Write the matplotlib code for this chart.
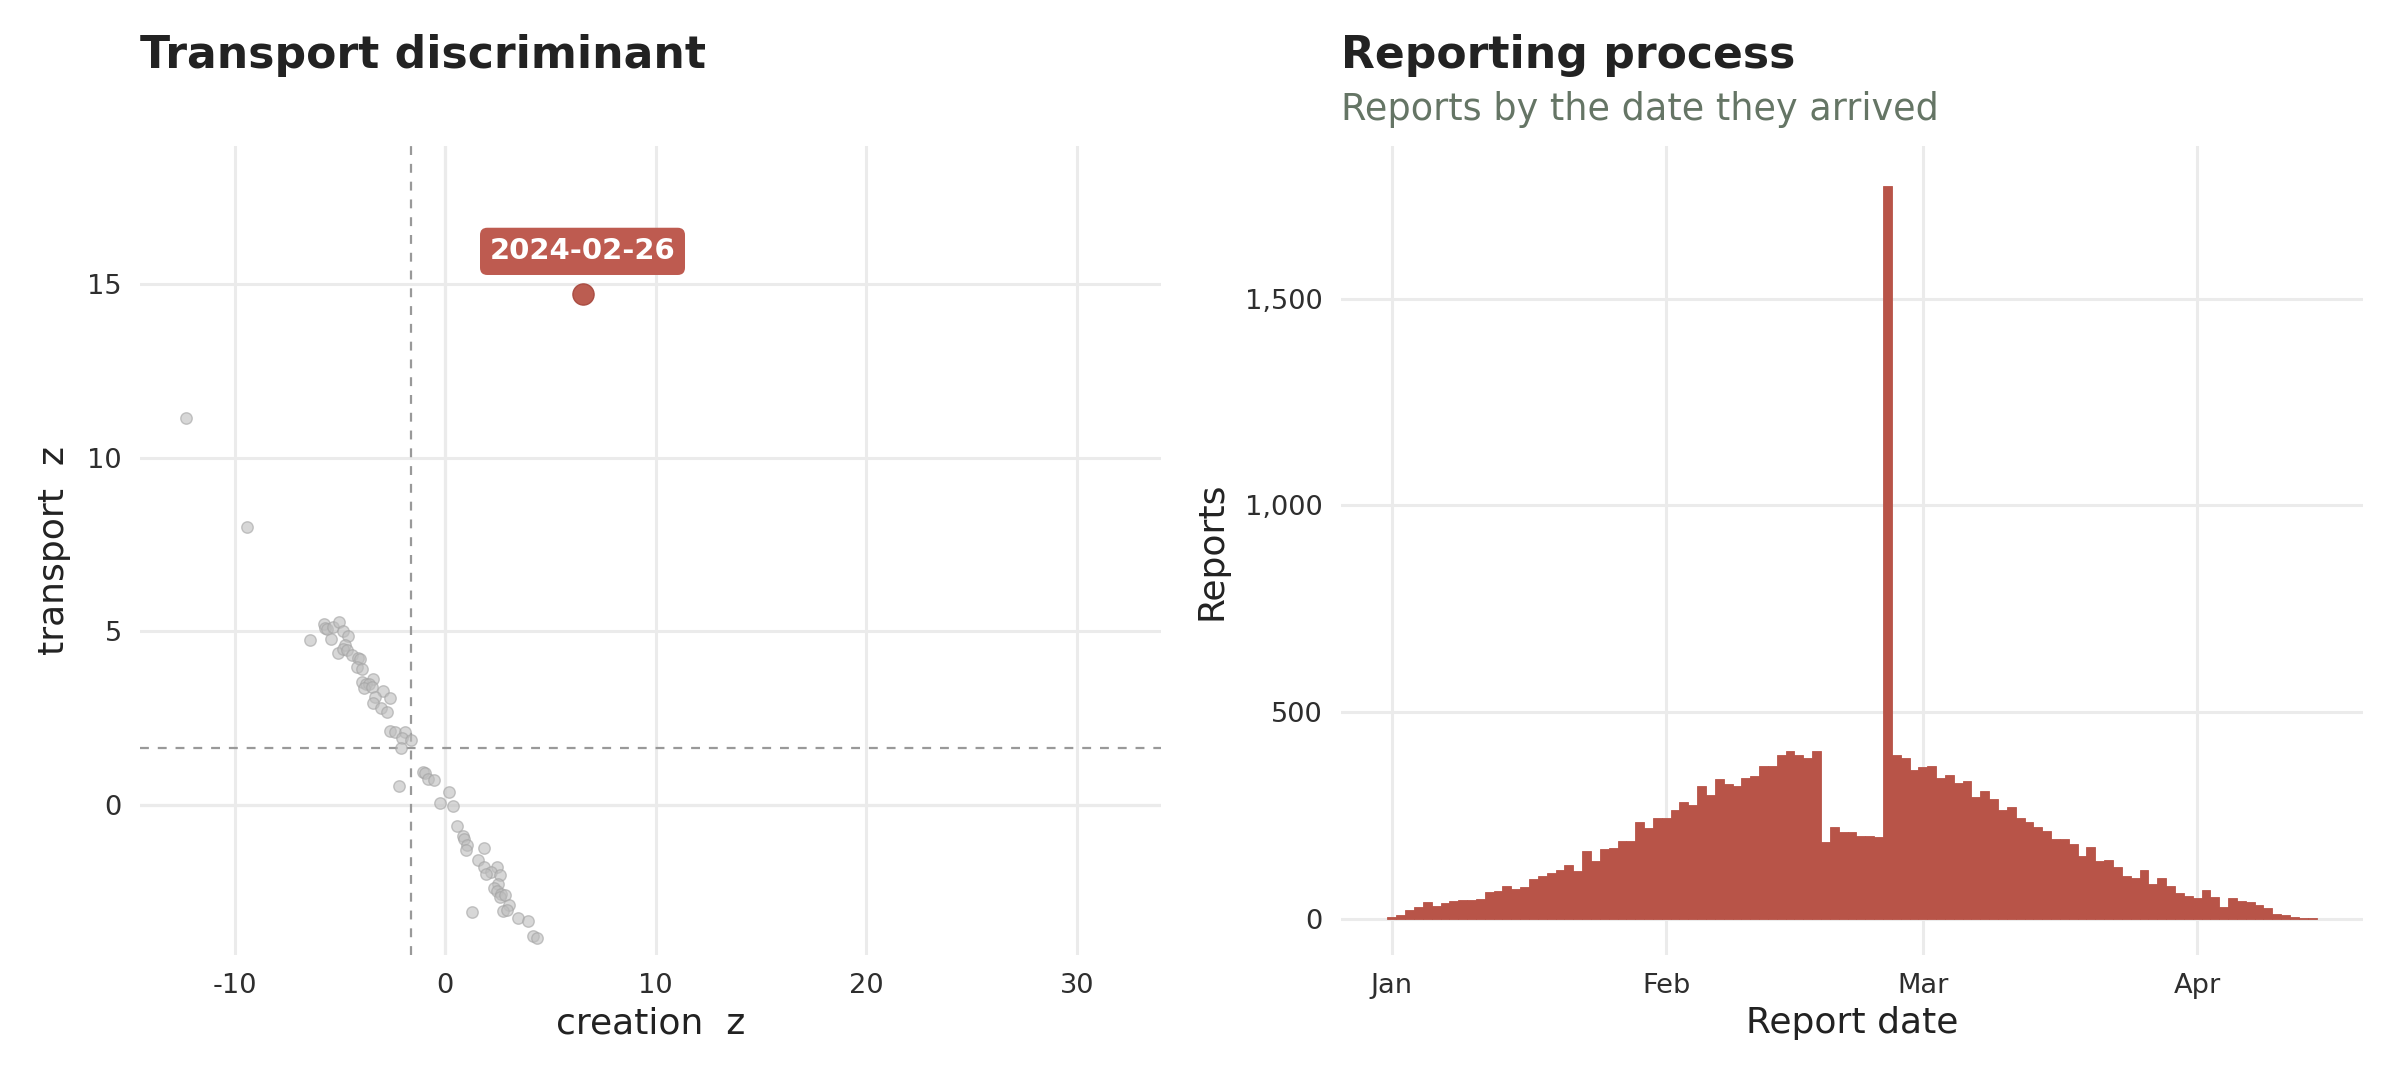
import matplotlib
matplotlib.use("Agg")
import matplotlib.pyplot as plt
import matplotlib.dates as mdates
import numpy as np
import pandas as pd
from matplotlib.ticker import FuncFormatter

plt.rcParams['font.family'] = ['DejaVu Sans']
plt.rcParams['axes.unicode_minus'] = False

# ---------------- data ----------------
creation_z = [-12.33, -9.42, -6.42, -5.75, -5.69, -5.60, -5.33, -5.04, -4.87, -5.42,
              -4.64, -4.75, -5.09, -4.87, -4.69, -4.45, -4.15, -4.05, -4.20, -3.96,
              -3.96, -3.42, -3.78, -3.60, -3.87, -3.47, -2.96, -3.33, -2.64, -3.42,
              -3.05, -2.78, -2.64, -2.38, -1.91, -2.05, -1.64, -2.09, -1.05, -0.96,
              -0.82, -0.55, -2.20, 0.18, -0.27, 0.35, 0.58, 0.85, 0.89, 1.04,
              0.98, 1.82, 1.55, 1.85, 2.45, 2.18, 1.95, 2.58, 2.49, 2.31,
              2.45, 2.67, 2.58, 2.82, 3.04, 2.76, 2.95, 1.25, 3.45, 3.95,
              4.18, 4.35]
transport_z = [11.13, 8.01, 4.74, 5.22, 5.09, 5.07, 5.12, 5.28, 5.01, 4.79,
               4.87, 4.62, 4.38, 4.48, 4.46, 4.32, 4.24, 4.21, 3.98, 3.91,
               3.54, 3.63, 3.47, 3.49, 3.38, 3.41, 3.28, 3.11, 3.08, 2.94,
               2.78, 2.67, 2.12, 2.09, 2.11, 1.92, 1.87, 1.64, 0.96, 0.91,
               0.76, 0.71, 0.54, 0.38, 0.06, -0.03, -0.60, -0.89, -0.97, -1.15,
               -1.31, -1.23, -1.59, -1.78, -1.78, -1.94, -2.00, -2.02, -2.27, -2.38,
               -2.47, -2.55, -2.66, -2.60, -2.88, -3.05, -3.01, -3.07, -3.25, -3.33,
               -3.76, -3.82]
highlight_date = "2024-02-26"
highlight_x = 6.52
highlight_y = 14.70
label_y = 15.94
threshold = 1.645

report_start = "2024-01-01"
reports = [
    # Jan
    4, 9, 21, 28, 40, 31, 38, 43, 45, 45, 48, 64, 67, 79, 72, 76, 96, 103, 110, 118,
    130, 115, 163, 139, 168, 171, 188, 188, 233, 219, 243,
    # Feb
    244, 262, 282, 275, 320, 299, 337, 325, 320, 340, 345, 369, 369, 395, 407, 395,
    390, 405, 185, 221, 209, 209, 200, 200, 197, 1773, 395, 390, 361,
    # Mar
    366, 369, 340, 349, 328, 333, 294, 308, 289, 262, 270, 243, 233, 221, 212, 192,
    192, 180, 151, 173, 139, 142, 125, 103, 98, 118, 84, 98, 79, 62, 55,
    # Apr
    50, 69, 52, 28, 50, 43, 40, 33, 26, 11, 9, 4, 2, 2,
]
report_dates = pd.date_range(report_start, periods=len(reports), freq="D")

x_ticks_left = [-10, 0, 10, 20, 30]
y_ticks_left = [0, 5, 10, 15]
y_ticks_right = [0, 500, 1000, 1500]
month_ticks = ["2024-01-01", "2024-02-01", "2024-03-01", "2024-04-01"]
month_labels = ["Jan", "Feb", "Mar", "Apr"]

# ---------------- style ----------------
RED = "#B85448"
LABEL_RED = "#BE5B50"
GRID = "#EBEBEB"
ZERO = "#D9D9D9"
TXT = "#222222"
TICK = "#2E2E2E"
SUB = "#657565"

fig = plt.figure(figsize=(12, 5.4), dpi=200)
axL = fig.add_axes([140 / 2400, 0.1157, 1021 / 2400, 0.749])
axR = fig.add_axes([1341 / 2400, 0.1157, 1022 / 2400, 0.749])

for ax in (axL, axR):
    for s in ax.spines.values():
        s.set_visible(False)
    ax.tick_params(length=0, labelsize=9.8, colors=TICK, pad=6.5)
    ax.set_axisbelow(True)
    ax.grid(True, color=GRID, linewidth=1.1)

# ---- left panel ----
axL.set_xlim(-14.5, 34.0)
axL.set_ylim(-4.32, 18.97)
axL.set_xticks(x_ticks_left)
axL.set_yticks(y_ticks_left)
axL.axhline(0, color=ZERO, linewidth=1.1, zorder=0.5)
axL.axvline(0, color=ZERO, linewidth=1.1, zorder=0.5)
axL.axhline(threshold, color="#999999", linewidth=0.8, linestyle=(0, (4, 4)), zorder=1)
axL.axvline(-threshold, color="#999999", linewidth=0.8, linestyle=(0, (4, 4)), zorder=1)
axL.scatter(creation_z, transport_z, s=17, facecolor="#BDBDBD", edgecolor="#A3A3A3",
            linewidth=0.5, alpha=0.6, zorder=2)
axL.scatter([highlight_x], [highlight_y], s=58, facecolor=RED, edgecolor="#A84A40",
            linewidth=0.5, alpha=0.95, zorder=3)
axL.text(highlight_x, label_y, highlight_date, ha="center", va="center",
         fontsize=10.5, fontweight="bold", color="white", zorder=4,
         bbox=dict(boxstyle="round,pad=0.33,rounding_size=0.25", fc=LABEL_RED, ec="none"))
axL.set_xlabel("creation  z", fontsize=13, color=TXT, va="center", ha="center")
axL.set_ylabel("transport  z", fontsize=13, color=TXT, va="center", ha="center")
axL.xaxis.set_label_coords(0.5, (955 - 1023) / 809)
axL.yaxis.set_label_coords((54 - 140) / 1021, 0.5)

# ---- right panel ----
axR.bar(report_dates, reports, width=1.0, align="center", color=RED,
        edgecolor=RED, linewidth=0.3, zorder=2)
x0 = mdates.date2num(pd.Timestamp(report_start))
axR.set_xlim(x0 - 5.75, x0 + 109.75)
axR.set_ylim(-87.7, 1869)
axR.set_xticks([mdates.date2num(pd.Timestamp(d)) for d in month_ticks])
axR.set_xticklabels(month_labels)
axR.set_yticks(y_ticks_right)
axR.yaxis.set_major_formatter(FuncFormatter(lambda v, p: f"{int(v):,}"))
axR.set_xlabel("Report date", fontsize=13, color=TXT, va="center", ha="center")
axR.set_ylabel("Reports", fontsize=13, color=TXT, va="center", ha="center")
axR.xaxis.set_label_coords(0.5, (955 - 1023) / 809)
axR.yaxis.set_label_coords((1212 - 1341) / 1022, 0.5)

fig.text(140 / 2400, 0.949, "Transport discriminant", fontsize=15.9, fontweight="bold",
         color=TXT, ha="left", va="center")
fig.text(1341 / 2400, 0.949, "Reporting process", fontsize=15.9, fontweight="bold",
         color=TXT, ha="left", va="center")
fig.text(1341 / 2400, 0.899, "Reports by the date they arrived", fontsize=13.2,
         color=SUB, ha="left", va="center")

fig.savefig("out.png", dpi=200, facecolor="white")
